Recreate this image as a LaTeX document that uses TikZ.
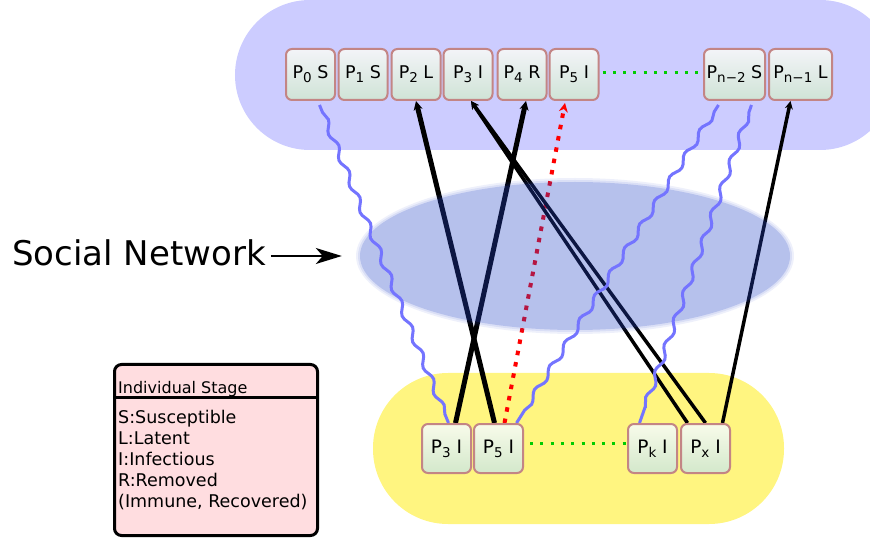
\documentclass[tikz,border=0pt]{standalone}
\usepackage{fontspec}
\setmainfont{DejaVu Sans}
\usetikzlibrary{shapes.geometric,decorations.pathmorphing,arrows.meta}

\definecolor{topblue}{HTML}{CCCCFF}
\definecolor{yel}{HTML}{FFF580}
\definecolor{netblue}{HTML}{2846C8}
\definecolor{boxedge}{HTML}{C38585}
\definecolor{wave}{HTML}{7474FF}
\definecolor{dotgreen}{HTML}{00CC00}
\definecolor{legfill}{HTML}{FFDDE0}
\definecolor{ttop}{HTML}{F3F4F8}
\definecolor{tbot}{HTML}{CFE3D6}
\definecolor{btop}{HTML}{F8FBEA}
\definecolor{bbot}{HTML}{D3E8CB}

\newcommand\sbs[1]{\raisebox{-4bp}{\fontsize{13.5bp}{13.5bp}\selectfont #1}}

\pgfdeclarelayer{bg}
\pgfdeclarelayer{links}
\pgfdeclarelayer{netl}
\pgfdeclarelayer{waves}
\pgfsetlayers{bg,links,netl,waves,main}

\begin{document}
\begin{tikzpicture}[x=1bp,y=-1bp,
  pbox/.style={draw=boxedge, line width=2bp, rounded corners=6bp, minimum width=49bp, minimum height=51bp, inner sep=0pt, font=\fontsize{17.5bp}{20bp}\selectfont},
  topbox/.style={pbox, top color=ttop, bottom color=tbot},
  botbox/.style={pbox, minimum height=49bp, font=\fontsize{18.5bp}{20bp}\selectfont, top color=btop, bottom color=bbot},
  wavy/.style={draw=wave, line width=3bp, decorate, decoration={snake, segment length=28bp, amplitude=2.8bp, pre length=8bp, post length=4bp}},
  link/.style={line width=3.5bp, -{Stealth[length=8bp,width=8bp]}},
  thicklink/.style={line width=5bp, -{Stealth[length=9bp,width=9bp]}},
  redlink/.style={red, line width=4bp, dash pattern=on 4.5bp off 7bp, -{Stealth[length=9bp,width=9bp]}},
  greendots/.style={dotgreen, line width=3bp, dash pattern=on 3bp off 7.3bp},
  area/.style={rounded corners=75bp, inner sep=0pt},
  netshape/.style={ellipse, fill=netblue, inner sep=0pt},
  legtext/.style={anchor=base west, inner sep=0pt, font=\fontsize{17.5bp}{21bp}\selectfont}
]
\useasboundingbox (0,0) rectangle (870,542);

\begin{pgfonlayer}{bg}
  \node[area, fill=topblue, minimum width=660bp, minimum height=150bp] (toparea) at (565,75) {};
  \node[area, fill=yel, minimum width=411bp, minimum height=151bp] (botarea) at (578.5,448.5) {};
\end{pgfonlayer}

% top row
\node[topbox] (t0) at (310.5,74.5) {P\sbs{0} S};
\node[topbox] (t1) at (363,74.5) {P\sbs{1} S};
\node[topbox] (t2) at (416,74.5) {P\sbs{2} L};
\node[topbox] (t3) at (468,74.5) {P\sbs{3} I};
\node[topbox] (t4) at (522,74.5) {P\sbs{4} R};
\node[topbox] (t5) at (574,74.5) {P\sbs{5} I};
\node[topbox, minimum width=61bp] (tn2) at (734.5,74.5) {P\sbs{n−2} S};
\node[topbox, minimum width=63bp] (tn1) at (800.5,74.5) {P\sbs{n−1} L};

% bottom row
\node[botbox] (b3) at (446.5,448.5) {P\sbs{3} I};
\node[botbox] (b5) at (498.5,448.5) {P\sbs{5} I};
\node[botbox] (bk) at (652.5,448.5) {P\sbs{k} I};
\node[botbox] (bx) at (705.5,448.5) {P\sbs{x} I};

\draw[greendots] ([xshift=3bp,yshift=2bp]t5.east) -- ([yshift=2bp]tn2.west);
\draw[greendots] ([xshift=6bp,yshift=5bp]b5.east) -- ([yshift=5bp]bk.west);

\begin{pgfonlayer}{links}
  \draw[thicklink] ([xshift=-4bp]b5.north) -- (t2.south);
  \draw[thicklink] ([xshift=9bp]b3.north) -- ([xshift=4bp]t4.south);
  \draw[redlink] ([xshift=6bp]b5.north) -- ([xshift=-9bp,yshift=-2bp]t5.south);
  \draw[link] ([xshift=-18bp]bx.north) -- ([xshift=3bp]t3.south);
  \draw[link] (bx.north) -- ([xshift=3bp]t3.south);
  \draw[link] ([xshift=17bp]bx.north) -- ([xshift=-10bp]tn1.south);
\end{pgfonlayer}

\begin{pgfonlayer}{waves}
  \draw[wavy] ([xshift=9bp,yshift=-4bp]t0.south) -- ([xshift=2bp]b3.north);
  \draw[wavy] ([xshift=-16bp,yshift=-4bp]tn2.south) -- ([xshift=18bp]b5.north);
  \draw[wavy] ([xshift=17bp,yshift=-4bp]tn2.south) -- ([xshift=-13bp]bk.north);
\end{pgfonlayer}

\begin{pgfonlayer}{netl}
  \node[netshape, fill opacity=0.08, minimum width=438bp, minimum height=156bp] (net) at (575,256) {};
  \node[netshape, fill opacity=0.10, minimum width=434bp, minimum height=152bp] (netmid) at (575,256) {};
  \node[netshape, fill opacity=0.20, minimum width=430bp, minimum height=148bp] (netcore) at (575,256) {};
\end{pgfonlayer}

% Social network label
\node[anchor=base west, inner sep=0pt, font=\fontsize{34bp}{40bp}\selectfont] (sn) at (12,265.7) {Social Network};
\draw[line width=1.3bp, -{Stealth[length=26bp,width=16bp,inset=7bp]}] ([xshift=5bp]sn.east |- net.west) -- ([xshift=-14bp]net.west);

% legend
\node[draw=black, line width=3bp, rounded corners=7bp, fill=legfill, minimum width=203bp, minimum height=171bp, inner sep=0pt] (legend) at (216,450) {};
\draw[line width=3bp] ([yshift=-34.5bp]legend.north west) -- ([yshift=-34.5bp]legend.north east);
\node[anchor=base west, inner sep=0pt, font=\fontsize{16bp}{19bp}\selectfont] (legtitle) at (118,393) {Individual Stage};
\node[legtext] (leg1) at (118,423) {S:Susceptible};
\node[legtext] (leg2) at (118,444) {L:Latent};
\node[legtext] (leg3) at (118,465) {I:Infectious};
\node[legtext] (leg4) at (118,486) {R:Removed};
\node[legtext] (leg5) at (118,507) {(Immune, Recovered)};
\end{tikzpicture}
\end{document}
